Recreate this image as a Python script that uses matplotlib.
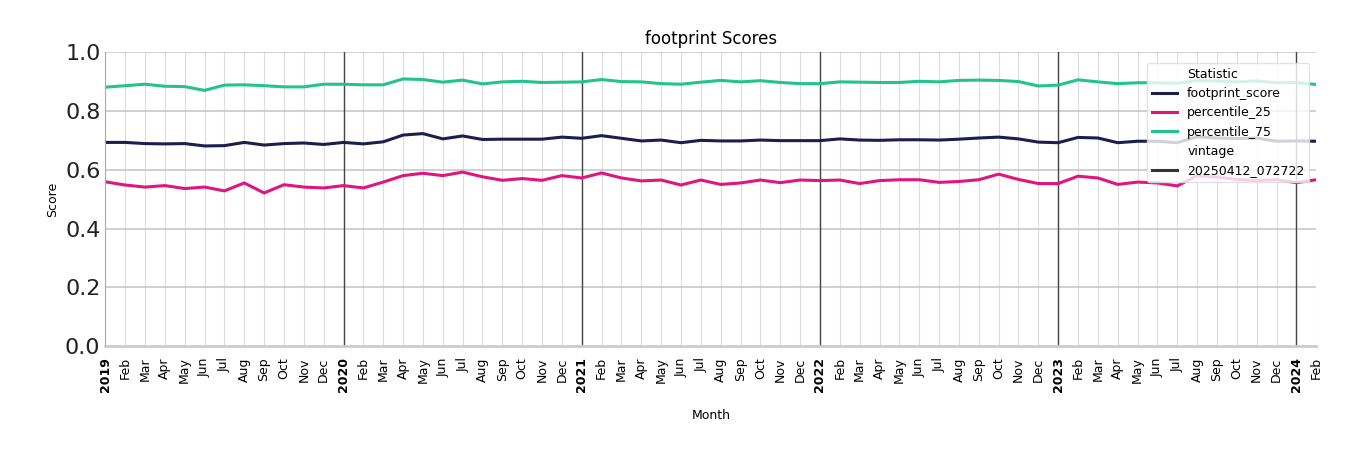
import matplotlib
matplotlib.use("Agg")
import matplotlib.pyplot as plt
import numpy as np
from matplotlib.lines import Line2D

months = ["2019","Feb","Mar","Apr","May","Jun","Jul","Aug","Sep","Oct","Nov","Dec"]
years = ["2019","2020","2021","2022","2023","2024"]
tick_labels = []
for y in years:
    tick_labels += [y] + months[1:]
tick_labels = tick_labels[:62]

footprint_score = [0.693,0.693,0.689,0.688,0.689,0.681,0.682,0.693,0.684,0.689,0.691,0.686,
                   0.693,0.688,0.695,0.718,0.723,0.705,0.715,0.703,0.704,0.704,0.704,0.711,
                   0.707,0.716,0.707,0.698,0.701,0.692,0.700,0.698,0.698,0.701,0.699,0.699,
                   0.699,0.705,0.701,0.700,0.702,0.702,0.701,0.704,0.708,0.711,0.705,0.694,
                   0.692,0.710,0.708,0.692,0.697,0.697,0.692,0.712,0.708,0.706,0.708,0.697,
                   0.698,0.697]
percentile_25 = [0.559,0.548,0.541,0.546,0.536,0.541,0.528,0.555,0.521,0.549,0.541,0.538,
                 0.546,0.538,0.558,0.580,0.588,0.580,0.592,0.576,0.564,0.570,0.564,0.580,
                 0.572,0.589,0.572,0.562,0.565,0.548,0.565,0.550,0.555,0.565,0.556,0.565,
                 0.563,0.565,0.553,0.563,0.566,0.566,0.557,0.560,0.566,0.585,0.567,0.553,
                 0.553,0.578,0.572,0.550,0.558,0.555,0.545,0.580,0.575,0.567,0.563,0.566,
                 0.556,0.566]
percentile_75 = [0.881,0.886,0.891,0.884,0.883,0.870,0.888,0.889,0.886,0.882,0.882,0.891,
                 0.891,0.889,0.889,0.909,0.907,0.898,0.905,0.892,0.899,0.901,0.897,0.898,
                 0.899,0.907,0.900,0.899,0.893,0.891,0.898,0.904,0.899,0.903,0.897,0.893,
                 0.893,0.899,0.898,0.897,0.897,0.901,0.899,0.904,0.905,0.904,0.900,0.885,
                 0.888,0.906,0.899,0.893,0.896,0.896,0.894,0.903,0.902,0.899,0.902,0.896,
                 0.897,0.890]

x = np.arange(len(footprint_score))
fig = plt.figure(figsize=(13.5, 4.5), dpi=100)
ax = fig.add_axes([0.078, 0.231, 0.897, 0.653])

for xi in x:
    ax.axvline(xi, color="#dddddd", lw=0.8, zorder=0)
for v in [0.2, 0.4, 0.6, 0.8, 1.0]:
    ax.axhline(v, color="#c8c8c8", lw=1.2, zorder=0)
for i, lab in enumerate(tick_labels):
    if lab.isdigit() and i > 0:
        ax.axvline(i, color="#444444", lw=1.0, zorder=1)

ax.plot(x, footprint_score, color="#1b1f4f", lw=2.2, label="footprint_score")
ax.plot(x, percentile_25, color="#e0157f", lw=2.2, label="percentile_25")
ax.plot(x, percentile_75, color="#22c38e", lw=2.2, label="percentile_75")

ax.set_xlim(0, len(x) - 1)
ax.set_ylim(0, 1.0)
ax.set_yticks([0, 0.2, 0.4, 0.6, 0.8, 1.0])
ax.set_yticklabels(["0.0", "0.2", "0.4", "0.6", "0.8", "1.0"], fontsize=16, color="#222222")
ax.set_xticks(x)
ax.set_xticklabels(tick_labels, rotation=90, fontsize=9)
for t, lab in zip(ax.get_xticklabels(), tick_labels):
    if lab.isdigit():
        t.set_fontweight("bold")
ax.tick_params(axis="x", length=0, pad=8)
ax.tick_params(axis="y", length=0)
for s in ["top", "right"]:
    ax.spines[s].set_visible(False)
ax.spines["left"].set_color("#aaaaaa")
ax.spines["bottom"].set_color("#cccccc")
ax.spines["bottom"].set_linewidth(2)
ax.set_xlabel("Month", fontsize=9, labelpad=12)
ax.set_ylabel("Score", fontsize=9)
ax.set_title("footprint Scores", fontsize=12)

h = [Line2D([], [], color="none"),
     Line2D([], [], color="#1b1f4f", lw=2.2),
     Line2D([], [], color="#e0157f", lw=2.2),
     Line2D([], [], color="#22c38e", lw=2.2),
     Line2D([], [], color="none"),
     Line2D([], [], color="#333333", lw=2.2)]
l = ["Statistic", "footprint_score", "percentile_25", "percentile_75", "vintage", "20250412_072722"]
ax.legend(h, l, loc="upper right", fontsize=9, framealpha=0.8, edgecolor="#dddddd",
          bbox_to_anchor=(0.9995, 0.985))

fig.savefig("out.png", dpi=100)
